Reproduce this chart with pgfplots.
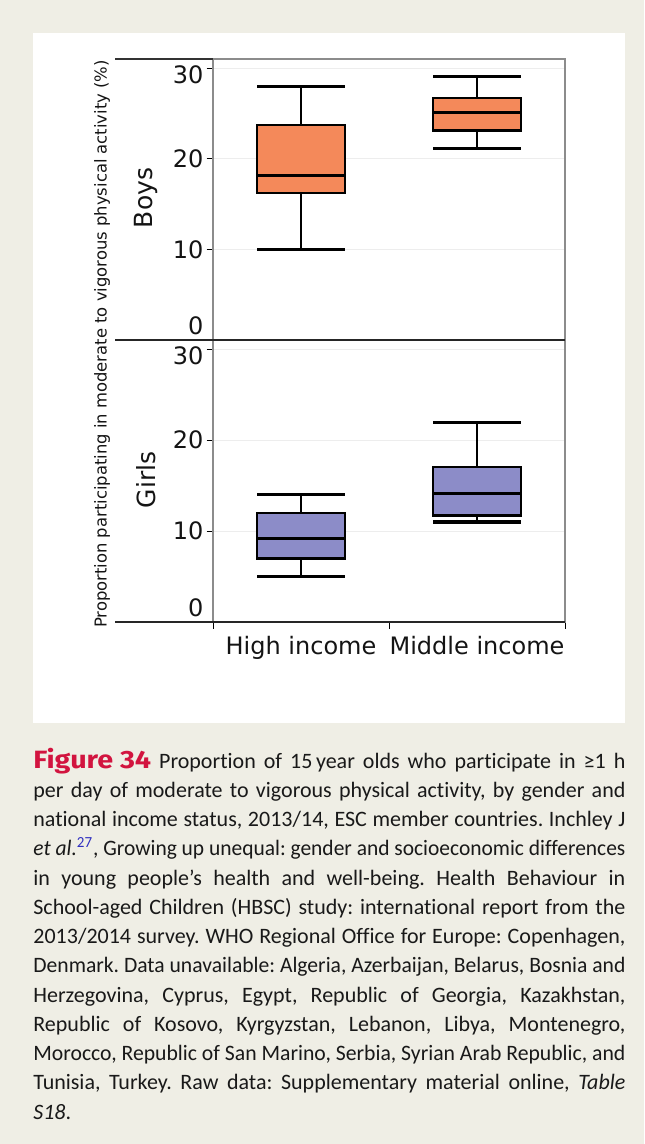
\documentclass[border=0pt]{standalone}
\usepackage{graphicx}
\usepackage{pgfplots}
\pgfplotsset{compat=1.18}
\usepgfplotslibrary{statistics}
\usepackage{fontspec}
\setmainfont{DejaVu Sans}
\newfontfamily\capfont{Carlito}[Ligatures=NoCommon]
\newfontfamily\figfont{Fira Sans}
\definecolor{bg}{HTML}{EFEEE5}
\definecolor{boysc}{HTML}{F4895A}
\definecolor{girlsc}{HTML}{8C8CC8}
\definecolor{figred}{HTML}{D2143F}
\definecolor{linkblue}{HTML}{3030C0}
\definecolor{framec}{HTML}{8C8C8C}
\newsavebox\jbox
\newcommand\jline[1]{\sbox\jbox{#1}\ifdim\wd\jbox>296pt \resizebox{296pt}{\height}{\usebox\jbox}\else\makebox[296pt][s]{#1}\fi}
\pgfplotsset{
  panel/.style={
    scale only axis, width=176pt,
    xmin=0, xmax=2, ymin=0, ymax=31,
    axis line style={draw=framec, line width=0.7pt},
    ytick={0,10,20,30},
    yticklabels={\raisebox{7pt}[\height][\depth]{0},10,20,\raisebox{-3.5pt}[\height][\depth]{30}},
    ytick pos=left, tick align=outside, major tick length=3.25pt,
    tick style={black, line width=0.5pt},
    ymajorgrids, grid style={black!7, line width=0.5pt},
    tick label style={font=\fontsize{12}{14}\selectfont, text=black!92},
    yticklabel style={xshift=2pt},
    boxplot/draw direction=y,
  },
  bx/.style={draw=black, line width=1.3pt, fill=#1,
    boxplot/every whisker/.style={line width=0.9pt},
    boxplot/every median/.style={line width=1.5pt}},
  cap/.style={black, line width=1.6pt, forget plot},
}
\begin{document}
\frenchspacing
\begin{tikzpicture}
\path[use as bounding box, fill=bg] (0pt,0pt) rectangle (322pt,-572pt);
\fill[white] (16.5pt,-16.5pt) rectangle (312.5pt,-361.5pt);

% Boys
\begin{axis}[panel, at={(106.5pt,-170pt)}, anchor=south west, height=140.5pt, xtick=\empty]
\addplot[bx=boysc, boxplot prepared={draw position=0.5, lower whisker=10, lower quartile=16.2, median=18.1, upper quartile=23.7, upper whisker=28, box extend=0.5, whisker extend=0.5}] coordinates {};
\addplot[bx=boysc, boxplot prepared={draw position=1.5, lower whisker=21.1, lower quartile=23.1, median=25.1, upper quartile=26.7, upper whisker=29.1, box extend=0.5, whisker extend=0.5}] coordinates {};
\addplot[cap] coordinates {(0.25,28) (0.75,28)};
\addplot[cap] coordinates {(0.25,10) (0.75,10)};
\addplot[cap] coordinates {(1.25,29.1) (1.75,29.1)};
\addplot[cap] coordinates {(1.25,21.1) (1.75,21.1)};
\end{axis}

% Girls
\begin{axis}[panel, at={(106.5pt,-311pt)}, anchor=south west, height=141pt,
  xtick={0,1,2}, xticklabels={,,}, xtick pos=bottom,
  extra x ticks={0.5,1.5}, extra x tick labels={High income,Middle income},
  extra x tick style={major tick length=0pt, xticklabel style={yshift=-3.5pt}}]
\addplot[bx=girlsc, boxplot prepared={draw position=0.5, lower whisker=5, lower quartile=7.0, median=9.15, upper quartile=12.0, upper whisker=14.05, box extend=0.5, whisker extend=0.5}] coordinates {};
\addplot[bx=girlsc, boxplot prepared={draw position=1.5, lower whisker=11.0, lower quartile=11.7, median=14.1, upper quartile=17.05, upper whisker=21.9, box extend=0.5, whisker extend=0.5}] coordinates {};
\addplot[cap] coordinates {(0.25,14.05) (0.75,14.05)};
\addplot[cap] coordinates {(0.25,5) (0.75,5)};
\addplot[cap] coordinates {(1.25,21.9) (1.75,21.9)};
\addplot[cap] coordinates {(1.25,11.0) (1.75,11.0)};
\end{axis}

\draw[line width=1pt, black!85] (57.5pt,-170pt) -- (282.5pt,-170pt);
\draw[line width=1pt, black!85] (57.5pt,-311pt) -- (282.5pt,-311pt);
\draw[line width=1pt, black!80] (57.5pt,-29.5pt) -- (106.5pt,-29.5pt);

\node[rotate=90, inner sep=0pt, text=black!92, font=\fontsize{8.2}{10}\selectfont] at (51pt,-172pt) {Proportion participating in moderate to vigorous physical activity (\%)};
\node[rotate=90, inner sep=0pt, text=black!92, font=\fontsize{12.5}{14}\selectfont] at (73pt,-99pt) {Boys};
\node[rotate=90, inner sep=0pt, text=black!92, font=\fontsize{12.5}{14}\selectfont] at (73pt,-240pt) {Girls};

\begin{scope}[every node/.style={anchor=base west, inner sep=0pt, font=\capfont\fontsize{11}{13}\selectfont, text=black!90}]
\node at (16.5pt,-384pt) {\jline{\scalebox{1.15}[1]{\figfont\fontsize{12.5}{14}\selectfont\bfseries\color{figred}Figure 34} Proportion of 15\,year olds who participate in ≥1 h}};
\node at (16.5pt,-398.625pt) {\jline{per day of moderate to vigorous physical activity, by gender and}};
\node at (16.5pt,-413.25pt) {\jline{national income status, 2013/14, ESC member countries. Inchley J}};
\node at (16.5pt,-427.875pt) {\jline{{\itshape et al.}\textsuperscript{\color{linkblue}27}, Growing up unequal: gender and socioeconomic differences}};
\node at (16.5pt,-442.5pt) {\jline{in young people’s health and well-being. Health Behaviour in}};
\node at (16.5pt,-457.125pt) {\jline{School-aged Children (HBSC) study: international report from the}};
\node at (16.5pt,-471.75pt) {\jline{2013/2014 survey. WHO Regional Office for Europe: Copenhagen,}};
\node at (16.5pt,-486.375pt) {\jline{Denmark. Data unavailable: Algeria, Azerbaijan, Belarus, Bosnia and}};
\node at (16.5pt,-501pt) {\jline{Herzegovina, Cyprus, Egypt, Republic of Georgia, Kazakhstan,}};
\node at (16.5pt,-515.625pt) {\jline{Republic of Kosovo, Kyrgyzstan, Lebanon, Libya, Montenegro,}};
\node at (16.5pt,-530.25pt) {\jline{Morocco, Republic of San Marino, Serbia, Syrian Arab Republic, and}};
\node at (16.5pt,-544.875pt) {\jline{Tunisia, Turkey. Raw data: Supplementary material online, {\itshape Table}}};
\node at (16.5pt,-559.5pt) {{\itshape S18}.};
\end{scope}
\end{tikzpicture}
\end{document}
